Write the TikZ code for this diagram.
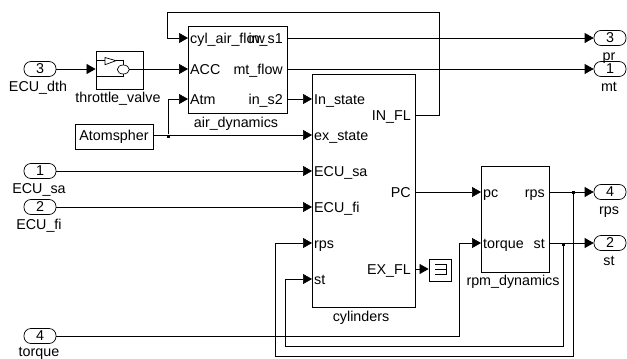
\documentclass[tikz,border=0pt]{standalone}
\usepackage{fontspec}
\setmainfont{Liberation Sans}
\usetikzlibrary{arrows.meta}
\begin{document}
\begin{tikzpicture}[x=1pt,y=-1pt,
		block/.style={rectangle, draw=black, inner sep=0pt, line width=0.8pt},
		port/.style={rectangle, rounded corners=7pt, draw=black, inner sep=0pt, minimum width=32pt, minimum height=15pt, line width=0.7pt, font=\fontsize{14.3}{14.3}\selectfont},
		txt/.style={inner sep=0pt, text height=10pt, text depth=0pt, font=\fontsize{14.3}{14.3}\selectfont},
		inlabel/.style={txt, anchor=west, inner xsep=2pt},
		outlabel/.style={txt, anchor=east, inner xsep=4pt},
		wire/.style={-{Triangle[length=9pt,width=10pt]}, line width=0.7pt},
		line/.style={line width=0.7pt},
		dot/.style={rectangle, fill=black, inner sep=0pt, minimum size=3pt},
	]
	\useasboundingbox (0,0) rectangle (627,359);
	% blocks
	\node [block, minimum width=47pt, minimum height=38pt] (valve) at (119.5,70) {};
	\node [block, minimum width=99pt, minimum height=87pt] (air) at (237.5,69.5) {};
	\node [block, minimum width=103pt, minimum height=233pt] (cyl) at (363.5,190.5) {};
	\node [block, minimum width=68pt, minimum height=106pt] (rpm) at (515,219) {};
	\node [block, minimum width=78pt, minimum height=25pt, font=\fontsize{14.3}{14.3}\selectfont] (atm) at (114,136.5) {Atomspher};
	\node [block, minimum width=22pt, minimum height=22pt] (term) at (440,270) {};
	% block names
	\node [txt] (valve-name) at (118,97) {throttle\_valve};
	\node [txt] (air-name) at (236,122) {air\_dynamics};
	\node [txt] (cyl-name) at (361,316) {cylinders};
	\node [txt] (rpm-name) at (513,280) {rpm\_dynamics};
	% inports
	\node [port] (dth) at (40,69) {3};
	\node [port] (sa) at (40,171) {1};
	\node [port] (fi) at (40,207) {2};
	\node [port] (trq) at (40,336) {4};
	\node [txt] (dth-name) at (38,86) {ECU\_dth};
	\node [txt] (sa-name) at (39,188) {ECU\_sa};
	\node [txt] (fi-name) at (39,224) {ECU\_fi};
	\node [txt] (trq-name) at (39,351.5) {torque};
	% outports
	\node [port] (pr) at (610,38) {3};
	\node [port] (mt) at (610,69) {1};
	\node [port] (rps) at (610,192) {4};
	\node [port] (st) at (610,243) {2};
	\node [txt] (pr-name) at (609,55) {pr};
	\node [txt] (mt-name) at (609,86) {mt};
	\node [txt] (rps-name) at (609,209) {rps};
	\node [txt] (st-name) at (609,260) {st};
	% air_dynamics ports
	\node [inlabel] (air-1) at (188,38) {cyl\_air\_flow};
	\node [inlabel] (air-2) at (188,69) {ACC};
	\node [inlabel] (air-3) at (188,99) {Atm};
	\node [outlabel] (air-a) at (287,38) {in\_s1};
	\node [outlabel] (air-b) at (287,69) {mt\_flow};
	\node [outlabel] (air-c) at (287,99) {in\_s2};
	% cylinders ports
	\node [inlabel] (cyl-1) at (312,99) {In\_state};
	\node [inlabel] (cyl-2) at (312,135) {ex\_state};
	\node [inlabel] (cyl-3) at (312,171) {ECU\_sa};
	\node [inlabel] (cyl-4) at (312,207) {ECU\_fi};
	\node [inlabel] (cyl-5) at (312,243) {rps};
	\node [inlabel] (cyl-6) at (312,279) {st};
	\node [outlabel] (cyl-a) at (415,115) {IN\_FL};
	\node [outlabel] (cyl-b) at (415,192) {PC};
	\node [outlabel] (cyl-c) at (415,269) {EX\_FL};
	% rpm_dynamics ports
	\node [inlabel] (rpm-1) at (481,192) {pc};
	\node [inlabel] (rpm-2) at (481,243) {torque};
	\node [outlabel] (rpm-a) at (549,192) {rps};
	\node [outlabel] (rpm-b) at (549,243) {st};
	% branch points
	\node [dot] (atm-dot) at (168,136) {};
	\node [dot] (rps-dot) at (573,192) {};
	\node [dot] (st-dot) at (563,244) {};
	\coordinate (top-r) at (439,12);
	\coordinate (top-l) at (167,12);
	\coordinate (low-a) at (459,336);
	\coordinate (low-b) at (285,346);
	\coordinate (low-c) at (275,356);
	% throttle icon
	\draw[line] (96,60.7) -- (105,60.7);
	\draw[line] (105,57.5) -- (116,60.7) -- (105,64.7) -- cycle;
	\draw[line] (116,60.7) -- (123.3,60.7) -- (123.3,65);
	\draw[line] (123.3,69.5) ellipse (6pt and 4.5pt);
	\draw[line] (96,76) -- (123.3,76) -- (123.3,74);
	\draw[line] (129.3,69) -- (143,69);
	% terminator icon
	\draw[line] (435,264) -- (446,264) -- (446,274) -- (435,274);
	\draw[line] (435,269) -- (446,269);
	% wires
	\draw[wire] (dth.east) to (valve.west |- dth.east);
	\draw[wire] (valve.east |- air-2.west) to (air-2.west);
	\draw[wire] (air-a.east) to (pr.west);
	\draw[wire] (air-b.east) to (mt.west);
	\draw[wire] (air-c.east) to (cyl-1.west);
	\draw[wire] (atm.east |- cyl-2.west) to (cyl-2.west);
	\draw[wire] (atm-dot) |- (air-3.west);
	\draw[wire] (sa.east) to (cyl-3.west);
	\draw[wire] (fi.east) to (cyl-4.west);
	\draw[wire] (cyl-a.east) -| (top-r) -- (top-l) |- (air-1.west);
	\draw[wire] (cyl-b.east) to (rpm-1.west);
	\draw[wire] (cyl-c.east) to (term.west |- cyl-c.east);
	\draw[wire] (trq.east) -- (low-a) |- (rpm-2.west);
	\draw[wire] (rpm-a.east) to (rps.west);
	\draw[wire] (rpm-b.east) to (st.west);
	\draw[wire] (rps-dot) |- (low-c) |- (cyl-5.west);
	\draw[wire] (st-dot) |- (low-b) |- (cyl-6.west);
\end{tikzpicture}
\end{document}
